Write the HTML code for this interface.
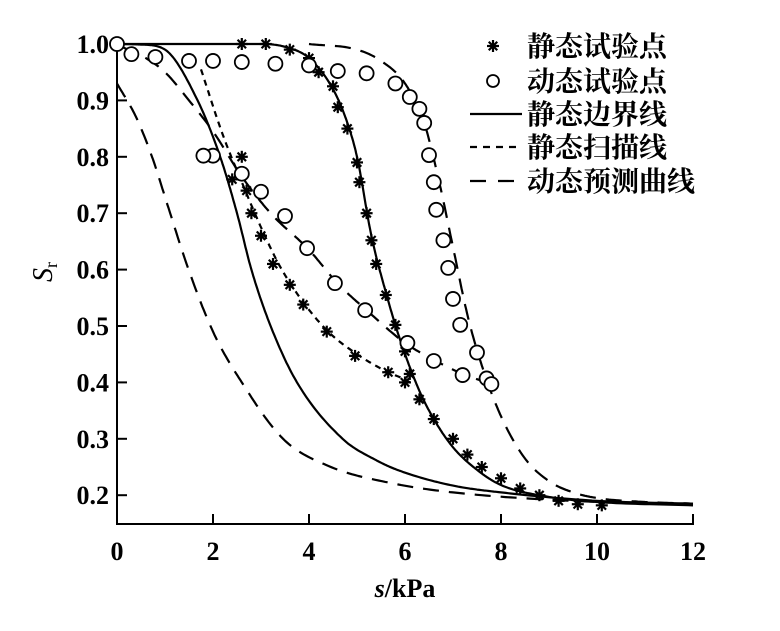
<!DOCTYPE html>
<html><head><meta charset="utf-8"><style>body{margin:0;background:#fff}</style></head><body>
<svg id="s" width="780" height="626" xmlns="http://www.w3.org/2000/svg" font-family="'Liberation Serif','Noto Serif CJK SC',serif">
<rect width="780" height="626" fill="#fff"/>
<g id="g"></g>
</svg>
<script>
const X=v=>117+v*48, Y=v=>44+(1-v)*564;
const g=document.getElementById('g');let h='';
h+=`<path d="M117 42V524H694" fill="none" stroke="#000" stroke-width="2"/>`;
for(let i=0;i<=12;i+=2){h+=`<line x1="${X(i)}" y1="524" x2="${X(i)}" y2="514" stroke="#000" stroke-width="2"/><text x="${X(i)}" y="560" font-size="26" font-weight="bold" text-anchor="middle">${i}</text>`;}
for(let i=2;i<=10;i++){let v=i/10;h+=`<line x1="117" y1="${Y(v)}" x2="127" y2="${Y(v)}" stroke="#000" stroke-width="2"/><text x="109" y="${Y(v)+9}" font-size="26" font-weight="bold" text-anchor="end">${v.toFixed(1)}</text>`;}
h+=`<text x="405" y="597" font-size="26" font-weight="bold" text-anchor="middle"><tspan font-style="italic">s</tspan>/kPa</text>`;
h+=`<text transform="translate(52,282) rotate(-90)" font-size="28"><tspan font-style="italic">S</tspan><tspan font-size="18" dy="5">r</tspan></text>`;
function mono(pts){const n=pts.length,xs=pts.map(p=>p[0]),ys=pts.map(p=>p[1]);const d=[],m=[];
for(let i=0;i<n-1;i++)d.push((ys[i+1]-ys[i])/(xs[i+1]-xs[i]));
m[0]=d[0];m[n-1]=d[n-2];for(let i=1;i<n-1;i++){m[i]=(d[i-1]*d[i]<=0)?0:(d[i-1]+d[i])/2;}
for(let i=0;i<n-1;i++){if(d[i]==0){m[i]=m[i+1]=0;continue;}let a=m[i]/d[i],b=m[i+1]/d[i],s=a*a+b*b;if(s>9){let t=3/Math.sqrt(s);m[i]=t*a*d[i];m[i+1]=t*b*d[i];}}
const out=[];for(let i=0;i<n-1;i++){const hh=xs[i+1]-xs[i];for(let k=0;k<20;k++){const t=k/20,t2=t*t,t3=t2*t;
out.push([xs[i]+t*hh,(2*t3-3*t2+1)*ys[i]+(t3-2*t2+t)*hh*m[i]+(-2*t3+3*t2)*ys[i+1]+(t3-t2)*hh*m[i+1]]);}}
out.push(pts[n-1]);return out;}
function line(pts,dash){let P=mono(pts);let d='M'+P.map(p=>X(p[0]).toFixed(1)+' '+Y(p[1]).toFixed(1)).join(' L');
h+=`<path d="${d}" fill="none" stroke="#000" stroke-width="2.2" ${dash?'stroke-dasharray="'+dash+'"':''} stroke-linejoin="round"/>`;}
line([[0,1],[0.5,0.999],[1,0.99],[1.65,0.905],[2.15,0.8],[2.5,0.7],[2.8,0.6],[3.2,0.5],[3.75,0.4],[4.7,0.3],[5.4,0.262],[5.9,0.243],[7,0.217],[8,0.205],[10,0.19],[12,0.185]]);
line([[0,1],[3,1],[3.5,0.995],[4,0.975],[4.5,0.92],[4.8,0.86],[5,0.8],[5.3,0.66],[5.6,0.56],[5.9,0.475],[6.3,0.385],[6.6,0.335],[7,0.285],[7.5,0.245],[8,0.218],[9,0.197],[10,0.188],[12,0.182]]);
line([[1.75,0.955],[2.2,0.84],[2.6,0.755],[3,0.675],[3.4,0.605],[3.9,0.54],[4.4,0.49],[5,0.45],[5.6,0.42],[6,0.405],[6.2,0.395]],"6 5");
line([[0,0.93],[0.4,0.87],[0.73,0.8],[1.07,0.71],[1.45,0.61],[2.0,0.49],[2.6,0.4],[3.46,0.3],[4.4,0.252],[5.8,0.22],[7,0.205],[9,0.192],[12,0.183]],"16 10");
line([[0.1,0.995],[0.6,0.975],[1,0.95],[1.5,0.9],[2,0.845],[2.6,0.765],[3.2,0.7],[4,0.635],[4.6,0.575],[5.2,0.528],[6,0.47],[6.6,0.44],[7.2,0.415],[7.7,0.4]],"16 10");
line([[4,1],[5,0.99],[5.5,0.97],[6,0.93],[6.4,0.86],[6.7,0.76],[7,0.64],[7.3,0.52],[7.6,0.43],[8,0.34],[8.5,0.265],[9,0.225],[9.5,0.205],[10,0.195],[11,0.188],[12,0.185]],"16 10");
function star(x,y){let s='';for(let a=0;a<4;a++){let t=a*Math.PI/4,dx=6*Math.cos(t),dy=6*Math.sin(t);s+=`<line x1="${x-dx}" y1="${y-dy}" x2="${x+dx}" y2="${y+dy}" stroke="#000" stroke-width="2.2"/>`;}h+=s;}
const st=[[2.4,0.76],[2.6,0.8],[2.7,0.74],[2.8,0.7],[3,0.66],[3.25,0.61],[3.6,0.573],[3.88,0.538],[4.37,0.49],[4.96,0.447],[5.65,0.418],[6,0.4],[2.6,1],[3.1,1],[3.6,0.99],[4,0.975],[4.2,0.95],[4.5,0.925],[4.6,0.888],[4.8,0.85],[5,0.79],[5.05,0.755],[5.2,0.7],[5.3,0.652],[5.4,0.61],[5.6,0.555],[5.8,0.502],[6,0.455],[6.1,0.415],[6.3,0.37],[6.6,0.335],[7,0.3],[7.3,0.272],[7.6,0.25],[8,0.23],[8.4,0.212],[8.8,0.2],[9.2,0.19],[9.6,0.184],[10.1,0.182]];
st.forEach(p=>star(X(p[0]),Y(p[1])));
const ci=[[0,1],[0.3,0.982],[0.8,0.977],[1.5,0.97],[2,0.97],[2.6,0.968],[3.3,0.965],[4,0.962],[4.6,0.952],[5.2,0.948],[5.8,0.93],[6.1,0.906],[6.3,0.885],[6.4,0.86],[6.5,0.803],[6.6,0.755],[6.65,0.706],[6.8,0.652],[6.9,0.603],[7.0,0.548],[7.15,0.502],[7.5,0.453],[7.7,0.407],[7.8,0.397],[7.2,0.413],[6.6,0.438],[6.05,0.47],[5.17,0.528],[4.54,0.576],[3.96,0.638],[3.5,0.695],[3,0.738],[2.6,0.77],[2.0,0.802],[1.8,0.802]];
ci.forEach(p=>h+=`<circle cx="${X(p[0])}" cy="${Y(p[1])}" r="7" fill="#fff" stroke="#000" stroke-width="1.8"/>`);
const L=["静态试验点","动态试验点","静态边界线","静态扫描线","动态预测曲线"],ly=[46,81,114,147,181];
L.forEach((t,i)=>h+=`<text x="527" y="${ly[i]+10}" font-size="28" font-weight="bold">${t}</text>`);
star(493,ly[0]);h+=`<circle cx="493" cy="${ly[1]}" r="6" fill="#fff" stroke="#000" stroke-width="1.8"/>`;
h+=`<line x1="470" y1="${ly[2]}" x2="522" y2="${ly[2]}" stroke="#000" stroke-width="2.2"/>`;
h+=`<line x1="470" y1="${ly[3]}" x2="522" y2="${ly[3]}" stroke="#000" stroke-width="2.2" stroke-dasharray="7 6"/>`;
h+=`<line x1="470" y1="${ly[4]}" x2="522" y2="${ly[4]}" stroke="#000" stroke-width="2.2" stroke-dasharray="16 12"/>`;
g.innerHTML=h;
</script>
</body></html>
